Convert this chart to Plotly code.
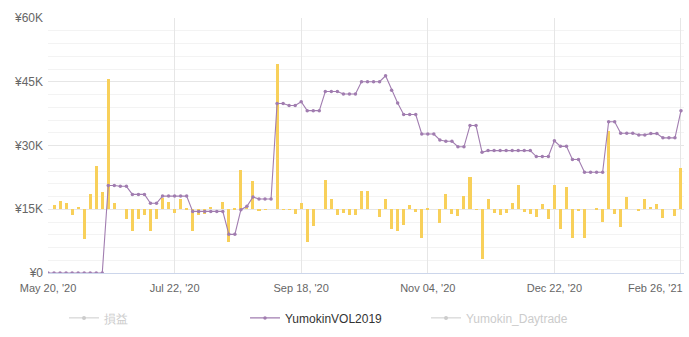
import plotly.graph_objects as go

# ---- data (values in thousands of yen) ----
tick_positions = [0, 21, 42, 63, 84, 105]
tick_labels = ["May 20, '20", "Jul 22, '20", "Sep 18, '20", "Nov 04, '20", "Dec 22, '20", "Feb 26, '21"]

y_tick_values = [0, 15, 30, 45, 60]
y_tick_labels = ["¥0", "¥15K", "¥30K", "¥45K", "¥60K"]

equity = [
    0, 0, 0, 0, 0, 0, 0, 0, 0, 0,
    20.6, 20.6, 20.4, 20.4, 18.5, 18.5, 18.5, 16.4, 16.4, 18.1,
    18.1, 18.1, 18.1, 18.1, 14.5, 14.5, 14.5, 14.5, 14.5, 14.5,
    9.1, 9.1, 14.9, 15.7, 17.9, 17.4, 17.4, 17.4, 39.9, 39.9,
    39.4, 39.4, 40.3, 38.2, 38.2, 38.2, 42.7, 42.7, 42.7, 42.1,
    42.1, 42.1, 45.0, 45.0, 45.0, 45.0, 46.4, 43.0, 40.0, 37.3,
    37.3, 37.3, 32.7, 32.7, 32.7, 31.3, 31.0, 31.0, 29.7, 29.7,
    34.7, 34.7, 28.4, 28.8, 28.8, 28.8, 28.8, 28.8, 28.8, 28.8,
    28.8, 27.4, 27.4, 27.4, 31.1, 29.8, 29.8, 26.7, 26.7, 23.7,
    23.7, 23.7, 23.7, 35.6, 35.6, 32.9, 32.9, 32.9, 32.5, 32.5,
    32.8, 32.8, 31.8, 31.8, 31.8, 38.2,
]

pnl = [
    0, 0.9, 1.9, 1.4, -1.4, 0.5, -7.0, 3.7, 10.1, 4.0,
    30.6, 1.4, 0, -2.2, -5.2, -2.2, -1.3, -5.2, -2.3, 2.7,
    1.7, -0.9, 2.4, 0.1, -5.0, -1.3, -1.1, 0.5, 0, 1.7,
    -7.6, 0.1, 9.2, 0.8, 6.7, -0.2, -0.1, 0, 34.2, -0.1,
    -0.1, -1.0, 1.5, -7.8, -3.9, 0, 6.8, 2.4, -1.3, -0.9,
    -1.3, -1.3, 4.4, 4.4, 0, -1.9, 2.4, -4.6, -5.1, -3.7,
    0.9, -0.7, -6.8, 0.1, 0, -3.2, 3.5, -1.2, -1.7, 3.1,
    7.5, -0.1, -11.7, 2.4, -0.9, -1.3, -0.9, 1.4, 5.6, -0.7,
    -1.1, -1.9, 1.3, -2.3, 5.6, -4.6, 5.2, -6.8, -0.3, -6.8,
    0, 0.1, -3.1, 18.3, -1.0, -4.2, 2.8, 0, -0.4, 2.4,
    0.5, 1.2, -2.0, 0, -1.6, 9.6,
]
pnl_base = 15

idx = list(range(len(equity)))

LINE = "#a17db0"
BAR = "#f8d05a"
GREY = "#cccccc"

fig = go.Figure()
fig.add_trace(go.Bar(
    x=idx, y=pnl, base=pnl_base, width=0.5,
    marker=dict(color=BAR, line=dict(width=0)),
    showlegend=False, hoverinfo="skip",
))
fig.add_trace(go.Scatter(
    x=[None], y=[None], mode="lines+markers",
    name='<span style="color:#cccccc">損益</span>',
    line=dict(color=GREY, width=1), marker=dict(color=GREY, size=4),
))
fig.add_trace(go.Scatter(
    x=idx, y=equity, mode="lines+markers", name="YumokinVOL2019",
    line=dict(color=LINE, width=1.1), marker=dict(color=LINE, size=3.5),
))
fig.add_trace(go.Scatter(
    x=[None], y=[None], mode="lines+markers",
    name='<span style="color:#cccccc">Yumokin_Daytrade</span>',
    line=dict(color=GREY, width=1), marker=dict(color=GREY, size=4),
))

# the last tick label is pulled inside the chart edge, as in the original
fig.add_annotation(
    x=tick_positions[-1], y=0, xref="x", yref="paper",
    text=tick_labels[-1], showarrow=False,
    xanchor="right", yanchor="middle", xshift=4, yshift=-15,
    font=dict(size=11, color="#666666"),
)

fig.update_layout(
    width=689, height=337,
    margin=dict(l=48, r=5, t=18, b=64, autoexpand=False),
    paper_bgcolor="white", plot_bgcolor="white",
    font=dict(family="Liberation Sans, Arial", size=12, color="#666666"),
    bargap=0,
    legend=dict(
        orientation="h", x=0.0252, xanchor="left", y=-0.176, yanchor="middle",
        font=dict(size=12, color="#333333"), entrywidth=136, itemwidth=30,
        bgcolor="rgba(0,0,0,0)",
    ),
    xaxis=dict(
        range=[0, 105.5], tickvals=tick_positions,
        ticktext=tick_labels[:-1] + [""],
        showgrid=True, gridcolor="#e6e6e6", gridwidth=1, zeroline=False,
        showline=True, linecolor="#ccd6eb", linewidth=1, ticks="",
        tickfont=dict(size=11, color="#666666"), ticklabelstandoff=5,
        automargin=False,
    ),
    yaxis=dict(
        range=[0, 60], tickvals=y_tick_values, ticktext=y_tick_labels,
        showgrid=True, gridcolor="#e6e6e6", gridwidth=1, zeroline=False,
        showline=False, ticks="", ticklabelstandoff=4, automargin=False,
        tickfont=dict(size=12, color="#666666"),
        minor=dict(dtick=3, showgrid=True, gridcolor="#f3f3f3", gridwidth=1),
    ),
)

fig.write_html("out.html")
